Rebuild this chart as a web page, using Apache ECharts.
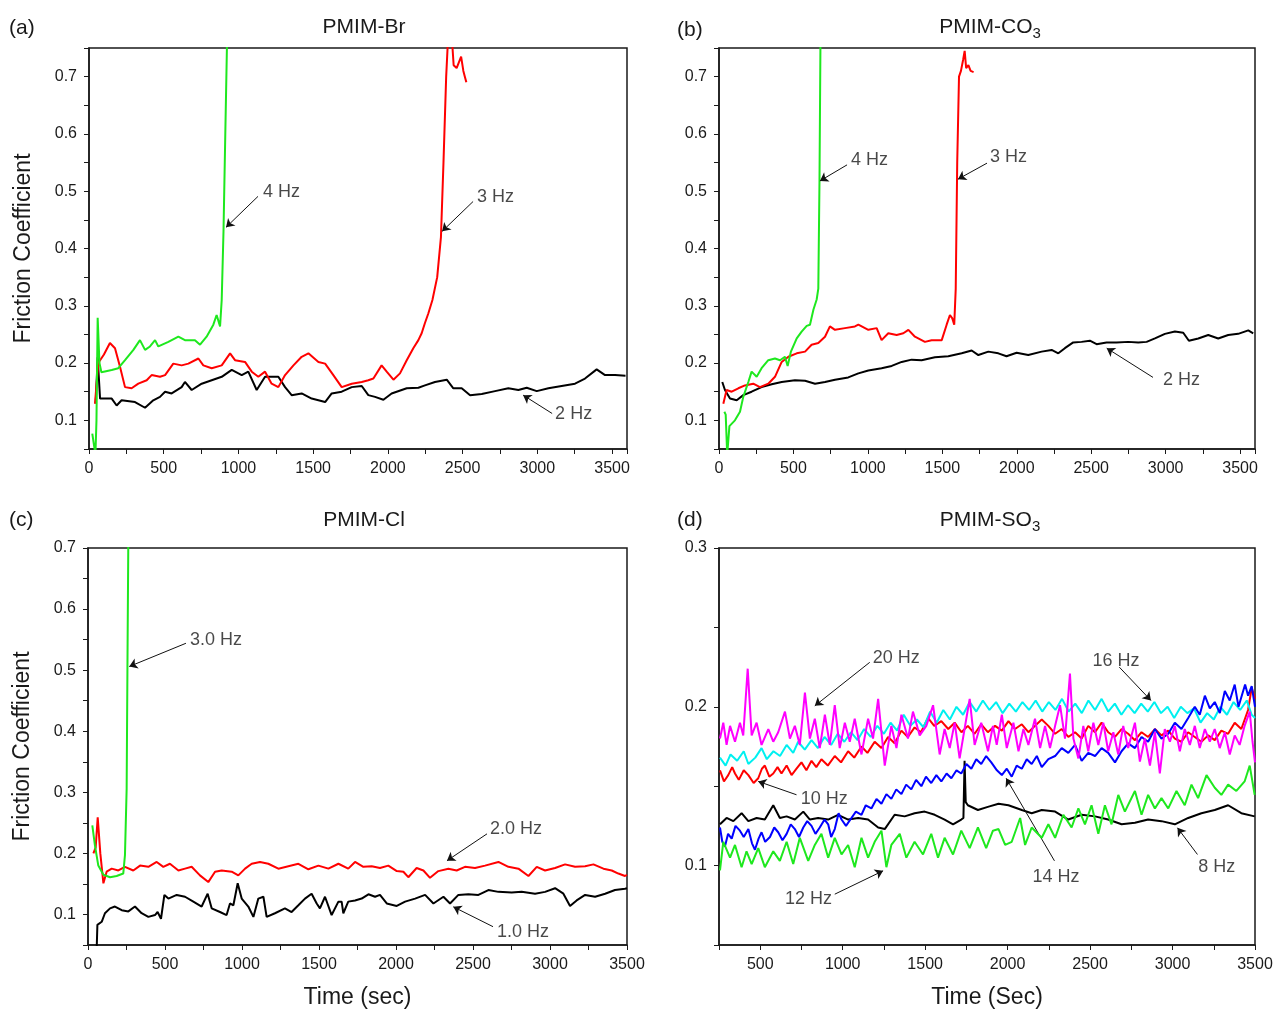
<!DOCTYPE html>
<html lang="en">
<head>
    <meta charset="utf-8">
    <script src="https://cdn.jsdelivr.net/npm/echarts@6/dist/echarts.min.js"></script>
    <style>
        html, body { margin: 0; padding: 0; background: #fff; }
        #chart { width: 1278px; height: 1012px; }
    </style>
</head>
<body>
<div id="chart"></div>
<script>
    // ---- (a) PMIM-Br : [time (s), friction coefficient]
    var brHz2 = [[45,0.13],[58,0.21],[74,0.138],[107,0.138],[152,0.138],[185,0.126],[218,0.135],[308,0.132],[375,0.122],[430,0.135],[475,0.141],[509,0.15],[553,0.147],[620,0.158],[642,0.167],[687,0.153],[754,0.164],[821,0.17],[888,0.176],[955,0.188],[1022,0.179],[1066,0.185],[1122,0.153],[1178,0.176],[1267,0.176],[1312,0.158],[1356,0.144],[1423,0.147],[1490,0.138],[1580,0.132],[1624,0.147],[1691,0.15],[1758,0.158],[1825,0.16],[1869,0.144],[1914,0.141],[1970,0.136],[2025,0.147],[2126,0.156],[2204,0.157],[2248,0.161],[2315,0.167],[2394,0.171],[2438,0.156],[2494,0.156],[2550,0.144],[2628,0.146],[2717,0.151],[2806,0.156],[2873,0.153],[2929,0.157],[2996,0.151],[3074,0.156],[3163,0.16],[3252,0.164],[3319,0.173],[3397,0.189],[3453,0.179],[3520,0.179],[3590,0.178]];
    var brHz3 = [[40,0.129],[62,0.2],[100,0.215],[140,0.235],[174,0.226],[207,0.194],[241,0.158],[285,0.156],[330,0.164],[386,0.17],[419,0.179],[475,0.176],[509,0.179],[564,0.199],[620,0.196],[665,0.199],[732,0.208],[765,0.196],[821,0.191],[888,0.196],[944,0.217],[977,0.205],[1044,0.202],[1089,0.185],[1133,0.176],[1178,0.185],[1222,0.164],[1267,0.158],[1312,0.179],[1368,0.196],[1423,0.211],[1468,0.217],[1535,0.202],[1580,0.199],[1635,0.179],[1691,0.158],[1758,0.164],[1825,0.167],[1869,0.17],[1903,0.173],[1958,0.196],[1992,0.185],[2037,0.171],[2081,0.182],[2126,0.205],[2170,0.226],[2204,0.24],[2226,0.252],[2248,0.27],[2271,0.287],[2298,0.31],[2330,0.35],[2355,0.42],[2372,0.55],[2390,0.7],[2405,0.78],[2425,0.78],[2440,0.72],[2460,0.715],[2475,0.725],[2490,0.735],[2505,0.71],[2515,0.7],[2525,0.69]];
    var brHz4 = [[22,0.077],[43,0.04],[50,0.1],[58,0.279],[70,0.2],[83,0.184],[152,0.188],[196,0.191],[241,0.205],[297,0.223],[341,0.24],[375,0.223],[408,0.229],[442,0.24],[464,0.229],[531,0.237],[598,0.246],[642,0.24],[709,0.24],[743,0.232],[787,0.246],[832,0.267],[854,0.284],[877,0.264],[888,0.31],[900,0.43],[912,0.6],[925,0.78]];

    // ---- (b) PMIM-CO3
    var coHz2 = [[22,0.167],[40,0.153],[74,0.138],[119,0.135],[163,0.144],[219,0.15],[286,0.158],[354,0.163],[421,0.167],[510,0.17],[578,0.169],[645,0.164],[712,0.167],[779,0.171],[868,0.175],[936,0.182],[1003,0.187],[1092,0.191],[1160,0.195],[1227,0.202],[1294,0.206],[1361,0.205],[1450,0.21],[1540,0.212],[1630,0.217],[1697,0.222],[1742,0.214],[1809,0.22],[1876,0.217],[1931,0.212],[1999,0.218],[2077,0.214],[2167,0.22],[2234,0.223],[2279,0.217],[2323,0.226],[2379,0.236],[2435,0.237],[2491,0.239],[2536,0.233],[2603,0.236],[2670,0.236],[2749,0.237],[2816,0.236],[2872,0.237],[2928,0.243],[2995,0.251],[3062,0.255],[3118,0.253],[3156,0.239],[3219,0.243],[3286,0.249],[3353,0.243],[3420,0.249],[3487,0.251],[3555,0.257],[3588,0.252]];
    var coHz3 = [[29,0.129],[51,0.153],[85,0.15],[130,0.156],[174,0.161],[230,0.164],[275,0.158],[331,0.164],[376,0.176],[421,0.202],[466,0.211],[522,0.217],[578,0.22],[622,0.232],[667,0.235],[712,0.246],[745,0.264],[779,0.258],[846,0.261],[913,0.264],[936,0.267],[1003,0.258],[1059,0.261],[1092,0.24],[1137,0.252],[1193,0.249],[1238,0.252],[1272,0.258],[1316,0.246],[1383,0.237],[1428,0.24],[1496,0.24],[1529,0.267],[1551,0.284],[1567,0.278],[1580,0.267],[1590,0.33],[1600,0.55],[1612,0.7],[1625,0.71],[1640,0.73],[1650,0.745],[1660,0.715],[1675,0.72],[1690,0.71],[1710,0.708]];
    var coHz4 = [[36,0.115],[45,0.11],[55,0.04],[70,0.09],[107,0.1],[141,0.115],[163,0.141],[197,0.167],[219,0.185],[253,0.176],[286,0.191],[331,0.205],[376,0.208],[410,0.205],[443,0.211],[461,0.195],[483,0.22],[522,0.243],[555,0.255],[589,0.265],[611,0.267],[634,0.293],[656,0.311],[667,0.33],[675,0.52],[682,0.78]];

    // ---- (c) PMIM-Cl
    var clHz1 = [[56,0.04],[61,0.083],[89,0.088],[110,0.102],[143,0.11],[175,0.113],[219,0.107],[262,0.105],[305,0.113],[348,0.102],[392,0.096],[435,0.099],[452,0.104],[474,0.093],[496,0.132],[522,0.126],[576,0.132],[630,0.129],[684,0.121],[738,0.113],[777,0.134],[803,0.11],[857,0.104],[900,0.099],[922,0.118],[944,0.115],[972,0.151],[998,0.126],[1041,0.113],[1074,0.096],[1106,0.126],[1139,0.129],[1160,0.096],[1214,0.102],[1279,0.11],[1322,0.104],[1366,0.115],[1409,0.126],[1452,0.134],[1485,0.118],[1506,0.11],[1539,0.129],[1582,0.099],[1626,0.121],[1647,0.121],[1658,0.102],[1690,0.121],[1734,0.123],[1777,0.126],[1821,0.133],[1864,0.129],[1896,0.132],[1940,0.118],[2005,0.114],[2059,0.121],[2124,0.126],[2189,0.132],[2243,0.118],[2308,0.129],[2351,0.118],[2405,0.132],[2470,0.133],[2535,0.132],[2600,0.14],[2665,0.137],[2751,0.136],[2816,0.137],[2903,0.134],[2968,0.137],[3033,0.143],[3087,0.134],[3130,0.114],[3173,0.123],[3228,0.132],[3293,0.129],[3358,0.134],[3422,0.14],[3487,0.142],[3500,0.143]];
    var clHz2 = [[35,0.2],[50,0.21],[63,0.259],[80,0.2],[100,0.151],[121,0.17],[154,0.175],[197,0.172],[240,0.178],[294,0.172],[338,0.18],[392,0.178],[446,0.186],[489,0.178],[532,0.183],[587,0.172],[630,0.175],[673,0.178],[727,0.164],[781,0.153],[825,0.17],[868,0.172],[933,0.17],[976,0.164],[1020,0.175],[1063,0.183],[1117,0.186],[1171,0.183],[1236,0.175],[1301,0.179],[1366,0.183],[1431,0.174],[1496,0.18],[1561,0.175],[1626,0.183],[1690,0.175],[1734,0.186],[1788,0.178],[1842,0.179],[1896,0.176],[1950,0.18],[2005,0.171],[2048,0.17],[2080,0.161],[2134,0.176],[2178,0.172],[2221,0.16],[2275,0.171],[2340,0.175],[2394,0.172],[2448,0.178],[2513,0.176],[2578,0.18],[2665,0.186],[2730,0.178],[2795,0.175],[2860,0.163],[2914,0.178],[2968,0.172],[3033,0.176],[3098,0.182],[3163,0.178],[3228,0.179],[3282,0.182],[3347,0.175],[3401,0.172],[3444,0.167],[3487,0.163],[3500,0.165]];
    var clHz3 = [[28,0.246],[45,0.213],[67,0.18],[100,0.165],[143,0.161],[186,0.163],[229,0.167],[240,0.197],[251,0.306],[256,0.5],[262,0.72]];

    // ---- (d) PMIM-SO3
    var soHz8 = [[256,0.126],[296,0.13],[337,0.128],[387,0.133],[428,0.128],[478,0.13],[528,0.129],[579,0.138],[619,0.13],[660,0.131],[710,0.129],[761,0.134],[801,0.129],[851,0.13],[912,0.129],[972,0.132],[1033,0.129],[1094,0.13],[1154,0.129],[1215,0.124],[1255,0.123],[1315,0.132],[1376,0.131],[1436,0.133],[1497,0.134],[1558,0.132],[1618,0.129],[1669,0.126],[1719,0.129],[1732,0.13],[1739,0.166],[1746,0.14],[1759,0.138],[1820,0.135],[1880,0.137],[1945,0.139],[2005,0.138],[2086,0.135],[2146,0.133],[2207,0.135],[2288,0.134],[2368,0.129],[2449,0.132],[2530,0.131],[2610,0.129],[2691,0.126],[2772,0.127],[2852,0.129],[2933,0.128],[3014,0.126],[3095,0.13],[3175,0.133],[3256,0.135],[3337,0.138],[3417,0.133],[3498,0.131]];
    var soHz10 = [[256,0.16],[280,0.153],[306,0.157],[330,0.162],[347,0.158],[370,0.154],[400,0.16],[428,0.157],[460,0.152],[488,0.155],[510,0.161],[528,0.163],[555,0.156],[579,0.158],[605,0.162],[629,0.158],[660,0.163],[690,0.157],[720,0.161],[750,0.165],[780,0.16],[811,0.166],[840,0.162],[871,0.167],[910,0.163],[952,0.169],[990,0.165],[1033,0.172],[1070,0.168],[1114,0.175],[1150,0.171],[1194,0.178],[1235,0.174],[1275,0.181],[1315,0.177],[1356,0.185],[1395,0.181],[1436,0.187],[1475,0.184],[1517,0.193],[1555,0.188],[1598,0.191],[1640,0.186],[1679,0.19],[1720,0.184],[1759,0.188],[1800,0.183],[1840,0.189],[1880,0.184],[1924,0.188],[1965,0.185],[2005,0.191],[2045,0.186],[2086,0.189],[2126,0.184],[2166,0.188],[2207,0.192],[2247,0.188],[2288,0.183],[2328,0.186],[2368,0.181],[2409,0.184],[2449,0.18],[2489,0.188],[2530,0.184],[2570,0.19],[2610,0.184],[2651,0.181],[2691,0.186],[2731,0.183],[2772,0.179],[2812,0.184],[2852,0.181],[2893,0.186],[2933,0.182],[2974,0.185],[3014,0.18],[3054,0.178],[3095,0.184],[3135,0.181],[3175,0.178],[3216,0.182],[3256,0.179],[3296,0.185],[3337,0.183],[3377,0.19],[3417,0.186],[3458,0.198],[3480,0.212],[3500,0.205]];
    var soHz12 = [[256,0.097],[276,0.115],[317,0.105],[347,0.113],[387,0.099],[417,0.109],[448,0.101],[488,0.111],[528,0.099],[579,0.109],[619,0.103],[660,0.115],[700,0.101],[740,0.1175],[791,0.103],[831,0.113],[871,0.12],[912,0.105],[952,0.1175],[993,0.107],[1033,0.113],[1073,0.099],[1114,0.1175],[1154,0.105],[1194,0.115],[1235,0.122],[1265,0.099],[1295,0.113],[1346,0.12],[1386,0.105],[1436,0.115],[1487,0.107],[1537,0.12],[1578,0.105],[1618,0.1175],[1669,0.107],[1719,0.122],[1770,0.111],[1820,0.124],[1870,0.111],[1911,0.122],[1945,0.123],[1985,0.113],[2025,0.115],[2076,0.13],[2106,0.113],[2146,0.124],[2207,0.1175],[2247,0.126],[2288,0.1175],[2338,0.132],[2388,0.124],[2429,0.136],[2469,0.126],[2509,0.138],[2550,0.12],[2590,0.138],[2630,0.126],[2671,0.1445],[2711,0.134],[2772,0.147],[2812,0.132],[2852,0.1445],[2893,0.136],[2933,0.1425],[2974,0.136],[3024,0.147],[3074,0.138],[3115,0.151],[3155,0.1425],[3206,0.157],[3256,0.149],[3296,0.1445],[3337,0.151],[3387,0.147],[3437,0.153],[3468,0.163],[3498,0.1445]];
    var soHz14 = [[256,0.124],[270,0.115],[286,0.112],[305,0.12],[327,0.117],[350,0.125],[377,0.122],[400,0.118],[428,0.123],[450,0.114],[468,0.11],[490,0.117],[508,0.121],[530,0.115],[559,0.118],[585,0.124],[609,0.121],[635,0.116],[660,0.12],[685,0.126],[710,0.123],[735,0.118],[761,0.124],[785,0.128],[811,0.125],[835,0.12],[861,0.124],[890,0.129],[912,0.126],[930,0.118],[952,0.123],[975,0.133],[993,0.129],[1020,0.125],[1053,0.13],[1080,0.134],[1114,0.132],[1140,0.138],[1174,0.136],[1205,0.142],[1235,0.139],[1265,0.145],[1295,0.142],[1325,0.148],[1356,0.145],[1385,0.151],[1416,0.148],[1445,0.154],[1477,0.15],[1505,0.156],[1537,0.152],[1568,0.157],[1598,0.153],[1630,0.158],[1659,0.155],[1690,0.16],[1719,0.158],[1750,0.164],[1780,0.161],[1810,0.167],[1840,0.164],[1870,0.169],[1901,0.165],[1935,0.16],[1965,0.157],[1995,0.161],[2025,0.156],[2055,0.163],[2086,0.161],[2116,0.167],[2146,0.164],[2177,0.169],[2207,0.162],[2247,0.167],[2288,0.169],[2328,0.174],[2368,0.171],[2409,0.176],[2449,0.166],[2489,0.171],[2530,0.169],[2570,0.174],[2610,0.171],[2651,0.165],[2691,0.172],[2731,0.177],[2772,0.174],[2812,0.181],[2852,0.178],[2893,0.186],[2933,0.18],[2974,0.183],[3014,0.19],[3054,0.186],[3095,0.193],[3135,0.2],[3165,0.195],[3196,0.207],[3226,0.199],[3256,0.203],[3287,0.196],[3317,0.21],[3347,0.204],[3377,0.214],[3400,0.2],[3417,0.206],[3440,0.214],[3458,0.207],[3480,0.213],[3500,0.2]];
    var soHz16 = [[256,0.168],[290,0.163],[320,0.17],[360,0.166],[400,0.172],[428,0.164],[470,0.168],[508,0.174],[540,0.167],[580,0.172],[620,0.169],[660,0.176],[700,0.171],[730,0.178],[770,0.173],[811,0.179],[850,0.174],[890,0.181],[930,0.176],[970,0.183],[1010,0.178],[1050,0.184],[1090,0.179],[1130,0.186],[1170,0.181],[1210,0.188],[1250,0.183],[1290,0.19],[1330,0.185],[1370,0.195],[1410,0.188],[1450,0.192],[1490,0.187],[1530,0.197],[1570,0.19],[1610,0.198],[1650,0.192],[1690,0.2],[1730,0.195],[1770,0.203],[1810,0.197],[1850,0.204],[1890,0.198],[1930,0.203],[1970,0.196],[2010,0.202],[2050,0.197],[2090,0.203],[2130,0.198],[2170,0.204],[2210,0.197],[2250,0.203],[2290,0.198],[2330,0.205],[2370,0.197],[2410,0.202],[2450,0.196],[2490,0.204],[2530,0.198],[2570,0.205],[2610,0.197],[2650,0.202],[2690,0.195],[2730,0.201],[2770,0.196],[2810,0.202],[2850,0.197],[2890,0.203],[2930,0.196],[2970,0.2],[3010,0.193],[3050,0.2],[3090,0.196],[3130,0.199],[3170,0.19],[3210,0.196],[3250,0.192],[3290,0.2],[3330,0.195],[3370,0.203],[3410,0.198],[3450,0.204],[3480,0.195],[3500,0.193]];
    var soHz20 = [[256,0.18],[276,0.19],[296,0.176],[317,0.188],[347,0.178],[377,0.19],[397,0.182],[424,0.224],[448,0.182],[478,0.19],[508,0.176],[549,0.186],[579,0.178],[609,0.184],[650,0.197],[680,0.18],[710,0.188],[740,0.176],[771,0.209],[801,0.18],[831,0.1925],[861,0.174],[892,0.195],[922,0.176],[952,0.201],[982,0.174],[1013,0.19],[1043,0.178],[1073,0.1925],[1114,0.17],[1154,0.1925],[1184,0.18],[1215,0.205],[1255,0.163],[1295,0.188],[1326,0.174],[1356,0.195],[1396,0.18],[1426,0.197],[1467,0.182],[1507,0.188],[1548,0.201],[1588,0.17],[1618,0.186],[1649,0.174],[1679,0.19],[1709,0.1675],[1739,0.186],[1770,0.205],[1800,0.176],[1840,0.19],[1881,0.172],[1911,0.188],[1934,0.176],[1965,0.195],[1995,0.174],[2035,0.19],[2066,0.172],[2096,0.186],[2126,0.176],[2166,0.1925],[2197,0.174],[2227,0.188],[2257,0.174],[2288,0.188],[2318,0.201],[2348,0.18],[2378,0.221],[2399,0.18],[2429,0.1675],[2459,0.188],[2489,0.172],[2520,0.19],[2550,0.176],[2580,0.19],[2610,0.172],[2641,0.184],[2671,0.17],[2701,0.188],[2731,0.174],[2772,0.19],[2802,0.1655],[2832,0.18],[2863,0.163],[2893,0.184],[2923,0.158],[2953,0.186],[2984,0.178],[3014,0.188],[3044,0.172],[3074,0.186],[3105,0.176],[3135,0.188],[3165,0.174],[3196,0.186],[3226,0.178],[3256,0.186],[3286,0.174],[3317,0.184],[3347,0.17],[3377,0.182],[3407,0.176],[3437,0.188],[3468,0.197],[3485,0.178],[3500,0.165]];

    // annotations: label text, label anchor (left-middle), arrow start, arrow tip
    var notesA = [
        {text: '4 Hz', at: [1165, 0.498], from: [1131, 0.491], to: [917, 0.437]},
        {text: '3 Hz', at: [2597, 0.489], from: [2570, 0.482], to: [2363, 0.43]},
        {text: '2 Hz', at: [3119, 0.1105], from: [3099, 0.112], to: [2905, 0.144]}
    ];
    var notesB = [
        {text: '4 Hz', at: [886, 0.554], from: [860, 0.546], to: [678, 0.518]},
        {text: '3 Hz', at: [1820, 0.56], from: [1800, 0.549], to: [1605, 0.521]},
        {text: '2 Hz', at: [2982, 0.17], from: [2915, 0.175], to: [2604, 0.226]}
    ];
    var notesC = [
        {text: '3.0 Hz', at: [662, 0.55], from: [636, 0.544], to: [268, 0.506]},
        {text: '2.0 Hz', at: [2610, 0.24], from: [2591, 0.232], to: [2331, 0.188]},
        {text: '1.0 Hz', at: [2656, 0.072], from: [2630, 0.08], to: [2372, 0.1125]}
    ];
    var notesD = [
        {text: '20 Hz', at: [1182, 0.231], from: [1164, 0.228], to: [831, 0.2006]},
        {text: '16 Hz', at: [2514, 0.229], from: [2677, 0.225], to: [2869, 0.204]},
        {text: '10 Hz', at: [746, 0.142], from: [720, 0.1446], to: [488, 0.153]},
        {text: '12 Hz', at: [650, 0.079], from: [952, 0.082], to: [1245, 0.0967]},
        {text: '14 Hz', at: [2151, 0.0925], from: [2284, 0.103], to: [1991, 0.155]},
        {text: '8 Hz', at: [3156, 0.0994], from: [3151, 0.107], to: [3030, 0.1238]}
    ];

    var FONT = '"Liberation Sans", Arial, sans-serif';
    var INK = '#1a1a1a';
    var BLACK = '#000', RED = '#ff0000', GREEN = '#1ee81e', BLUE = '#0000ff', CYAN = '#00f0f0', MAGENTA = '#ff00ff';

    var chart = echarts.init(document.getElementById('chart'), null, {renderer: 'canvas'});

    function xAxis(idx, min, max, name) {
        return {
            type: 'value', gridIndex: idx, min: min, max: max, interval: 250,
            name: name || '', nameLocation: 'middle', nameGap: 41,
            nameTextStyle: {fontFamily: FONT, fontSize: 23, color: INK},
            axisLine: {show: true, onZero: false, lineStyle: {color: INK, width: 1.5}},
            axisTick: {show: true, length: 5, lineStyle: {color: INK, width: 1}},
            axisLabel: {
                fontFamily: FONT, fontSize: 16, color: INK, margin: 12,
                formatter: function (v) { return v % 500 === 0 ? String(v) : ''; }
            },
            splitLine: {show: false}
        };
    }

    function yAxis(idx, min, max, name) {
        return {
            type: 'value', gridIndex: idx, min: min, max: max, interval: 0.05,
            name: name || '', nameLocation: 'middle', nameGap: 54,
            nameTextStyle: {fontFamily: FONT, fontSize: 23, color: INK},
            axisLine: {show: true, onZero: false, lineStyle: {color: INK, width: 1.5}},
            axisTick: {show: true, length: 5, lineStyle: {color: INK, width: 1}},
            axisLabel: {
                fontFamily: FONT, fontSize: 16, color: INK, margin: 12,
                formatter: function (v) {
                    var k = v * 10;
                    return Math.abs(k - Math.round(k)) < 1e-6 ? v.toFixed(1) : '';
                }
            },
            splitLine: {show: false}
        };
    }

    function curve(idx, data, color, z) {
        return {
            type: 'line', xAxisIndex: idx, yAxisIndex: idx, data: data,
            symbol: 'none', clip: true, z: z || 2, silent: true,
            lineStyle: {color: color, width: 2}, itemStyle: {color: color}
        };
    }

    function notes(idx, list) {
        return {
            type: 'scatter', xAxisIndex: idx, yAxisIndex: idx, silent: true, z: 10,
            symbolSize: 0,
            data: list.map(function (n) { return {name: n.text, value: n.at}; }),
            label: {
                show: true, position: 'right', distance: 0, formatter: '{b}',
                fontFamily: FONT, fontSize: 18, color: INK
            },
            markLine: {
                silent: true, animation: false,
                symbol: ['none', 'arrow'], symbolSize: 8,
                lineStyle: {color: '#111', width: 1, type: 'solid'},
                label: {show: false},
                data: list.map(function (n) {
                    return [{coord: n.from}, {coord: n.to}];
                })
            }
        };
    }

    var titleStyle = {
        fontFamily: FONT, fontSize: 21, fontWeight: 'normal', color: INK, lineHeight: 28,
        rich: {sub: {fontFamily: FONT, fontSize: 15, color: INK, lineHeight: 16, verticalAlign: 'bottom'}}
    };
    function title(text, left, top, align) {
        return {text: text, left: left, top: top, textAlign: align || 'left', padding: 0, textStyle: titleStyle};
    }

    chart.setOption({
        animation: false,
        backgroundColor: '#fff',
        title: [
            title('(a)', 9, 14), title('PMIM-Br', 364, 13, 'center'),
            title('(b)', 677, 16), title('PMIM-CO{sub|3}', 990, 13, 'center'),
            title('(c)', 9, 506), title('PMIM-Cl', 364, 506, 'center'),
            title('(d)', 677, 506), title('PMIM-SO{sub|3}', 990, 506, 'center')
        ],
        grid: [
            {left: 89, top: 48, width: 538, height: 401, show: true, borderColor: INK, borderWidth: 1.5},
            {left: 719, top: 48, width: 536, height: 401, show: true, borderColor: INK, borderWidth: 1.5},
            {left: 88, top: 548, width: 539, height: 397, show: true, borderColor: INK, borderWidth: 1.5},
            {left: 719, top: 548, width: 536, height: 397, show: true, borderColor: INK, borderWidth: 1.5}
        ],
        xAxis: [
            xAxis(0, 0, 3600),
            xAxis(1, 0, 3600),
            xAxis(2, 0, 3500, 'Time (sec)'),
            xAxis(3, 250, 3500, 'Time (Sec)')
        ],
        yAxis: [
            yAxis(0, 0.05, 0.75, 'Friction Coefficient'),
            yAxis(1, 0.05, 0.75),
            yAxis(2, 0.05, 0.7, 'Friction Coefficient'),
            yAxis(3, 0.05, 0.3)
        ],
        series: [
            curve(0, brHz2, BLACK, 2), curve(0, brHz3, RED, 3), curve(0, brHz4, GREEN, 4),
            notes(0, notesA),
            curve(1, coHz2, BLACK, 2), curve(1, coHz3, RED, 3), curve(1, coHz4, GREEN, 4),
            notes(1, notesB),
            curve(2, clHz1, BLACK, 2), curve(2, clHz2, RED, 3), curve(2, clHz3, GREEN, 4),
            notes(2, notesC),
            curve(3, soHz8, BLACK, 2), curve(3, soHz10, RED, 3), curve(3, soHz16, CYAN, 4),
            curve(3, soHz14, BLUE, 5), curve(3, soHz12, GREEN, 6), curve(3, soHz20, MAGENTA, 7),
            notes(3, notesD)
        ]
    });
</script>
</body>
</html>
